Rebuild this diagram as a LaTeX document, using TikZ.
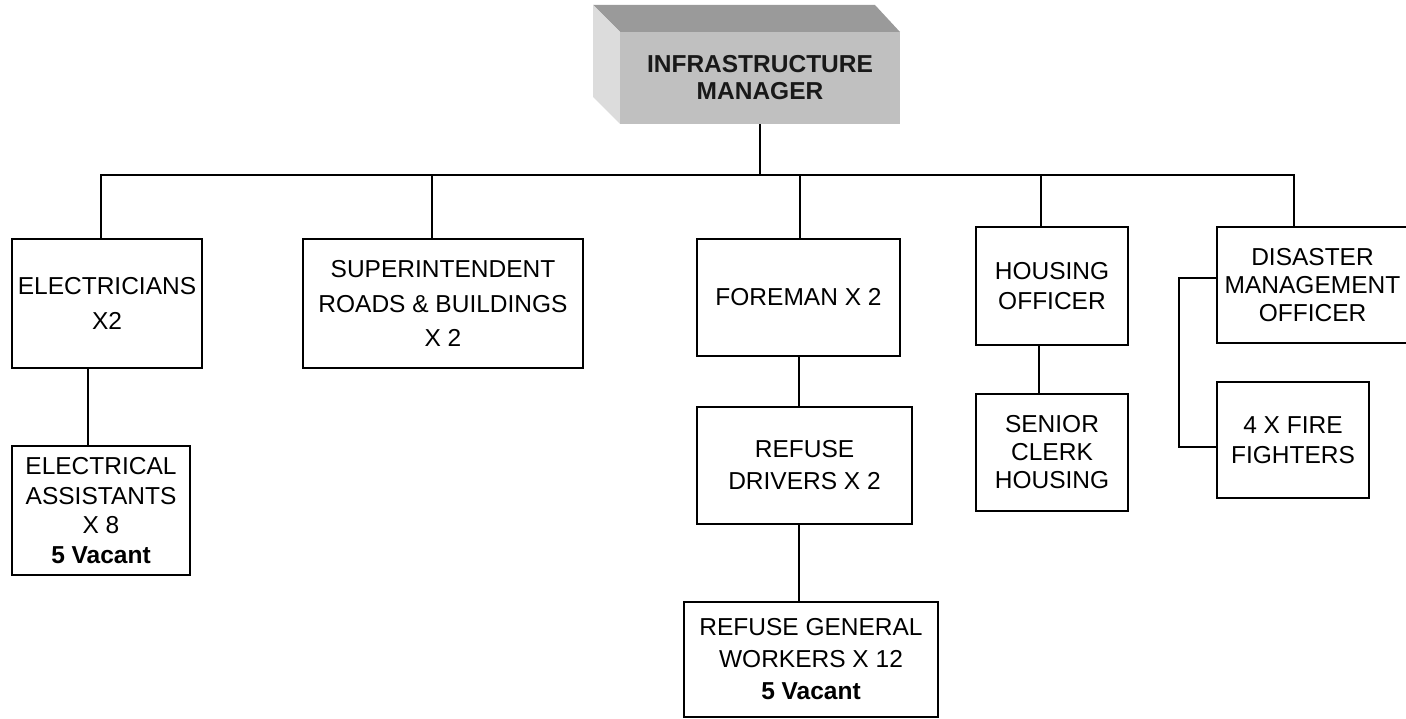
\documentclass[tikz,border=0pt]{standalone}
\usepackage{fontspec}
\setmainfont{Liberation Sans}
\definecolor{topface}{HTML}{9A9A9A}
\definecolor{frontface}{HTML}{C0C0C0}
\definecolor{leftface}{HTML}{DCDCDC}
\tikzset{
  box/.style={draw, line width=1.3pt, inner sep=0pt, align=center,
    font=\fontsize{24.5}{30}\selectfont},
  conn/.style={line width=1.3pt},
}
\newcommand\orgbox[7]{\node[box,minimum width={(#4)-(#2)},minimum height={(#5)-(#3)},#6] (#1) at ({((#2)+(#4))/2},{((#3)+(#5))/2}) {#7};}
\begin{document}
\begin{tikzpicture}[x=1pt,y=-1pt]
\useasboundingbox (0,0) rectangle (1406,719);
% manager 3D box
\fill[topface] (593,5) -- (875,5) -- (900,32) -- (620,32) -- cycle;
\fill[leftface] (593,5) -- (620,32) -- (620,124) -- (593,97) -- cycle;
\node[inner sep=0pt, fill=frontface, minimum width=280, minimum height=92, align=center,
  font=\fontsize{24.5}{27}\selectfont\bfseries, text=black!90] (mgr) at (760,78)
  {INFRASTRUCTURE\\MANAGER};
% boxes
\orgbox{elec}{12}{239}{202}{368}{font=\fontsize{24.5}{34.5}\selectfont}{ELECTRICIANS\\X2}
\orgbox{asst}{12}{446}{190}{575}{font=\fontsize{24.5}{29.5}\selectfont}{ELECTRICAL\\ASSISTANTS\\X 8\\\textbf{5 Vacant}}
\orgbox{supt}{303}{239}{583}{368}{font=\fontsize{24.5}{34.5}\selectfont}{SUPERINTENDENT\\ROADS \& BUILDINGS\\X 2}
\orgbox{fore}{697}{239}{900}{356}{}{FOREMAN X 2}
\orgbox{drv}{697}{407}{912}{524}{font=\fontsize{24.5}{32}\selectfont}{REFUSE\\DRIVERS X 2}
\orgbox{gen}{684}{602}{938}{717}{font=\fontsize{24.5}{32}\selectfont}{REFUSE GENERAL\\WORKERS X 12\\\textbf{5 Vacant}}
\orgbox{hous}{976}{227}{1128}{345}{}{HOUSING\\OFFICER}
\orgbox{clerk}{976}{394}{1128}{511}{font=\fontsize{24.5}{28}\selectfont}{SENIOR\\CLERK\\HOUSING}
\orgbox{dis}{1217}{227}{1408}{343}{font=\fontsize{24.5}{28}\selectfont}{DISASTER\\MANAGEMENT\\OFFICER}
\orgbox{fire}{1217}{382}{1369}{498}{}{4 X FIRE\\FIGHTERS}
% connector columns
\coordinate (bar) at (760,175);
\coordinate (c1) at (101,0);
\coordinate (c2) at (432,0);
\coordinate (c3) at (800,0);
\coordinate (c4) at (1041,0);
\coordinate (c5) at (1294,0);
\coordinate (ce) at (88,0);
\coordinate (cf) at (799,0);
\coordinate (ch) at (1039,0);
\coordinate (ff) at (1179,278);
\coordinate (fg) at (1179,447);
\draw[conn] (mgr.south) -- (bar);
\draw[conn] (elec.north -| c1) |- (bar);
\draw[conn] (supt.north -| c2) |- (bar);
\draw[conn] (fore.north -| c3) |- (bar);
\draw[conn] (hous.north -| c4) |- (bar);
\draw[conn] (dis.north -| c5) |- (bar);
\draw[conn] (elec.south -| ce) -- (asst.north -| ce);
\draw[conn] (fore.south -| cf) -- (drv.north -| cf);
\draw[conn] (drv.south -| cf) -- (gen.north -| cf);
\draw[conn] (hous.south -| ch) -- (clerk.north -| ch);
\draw[conn] (dis.west |- ff) -- (ff) -- (fg) -- (fire.west |- fg);
\end{tikzpicture}
\end{document}
